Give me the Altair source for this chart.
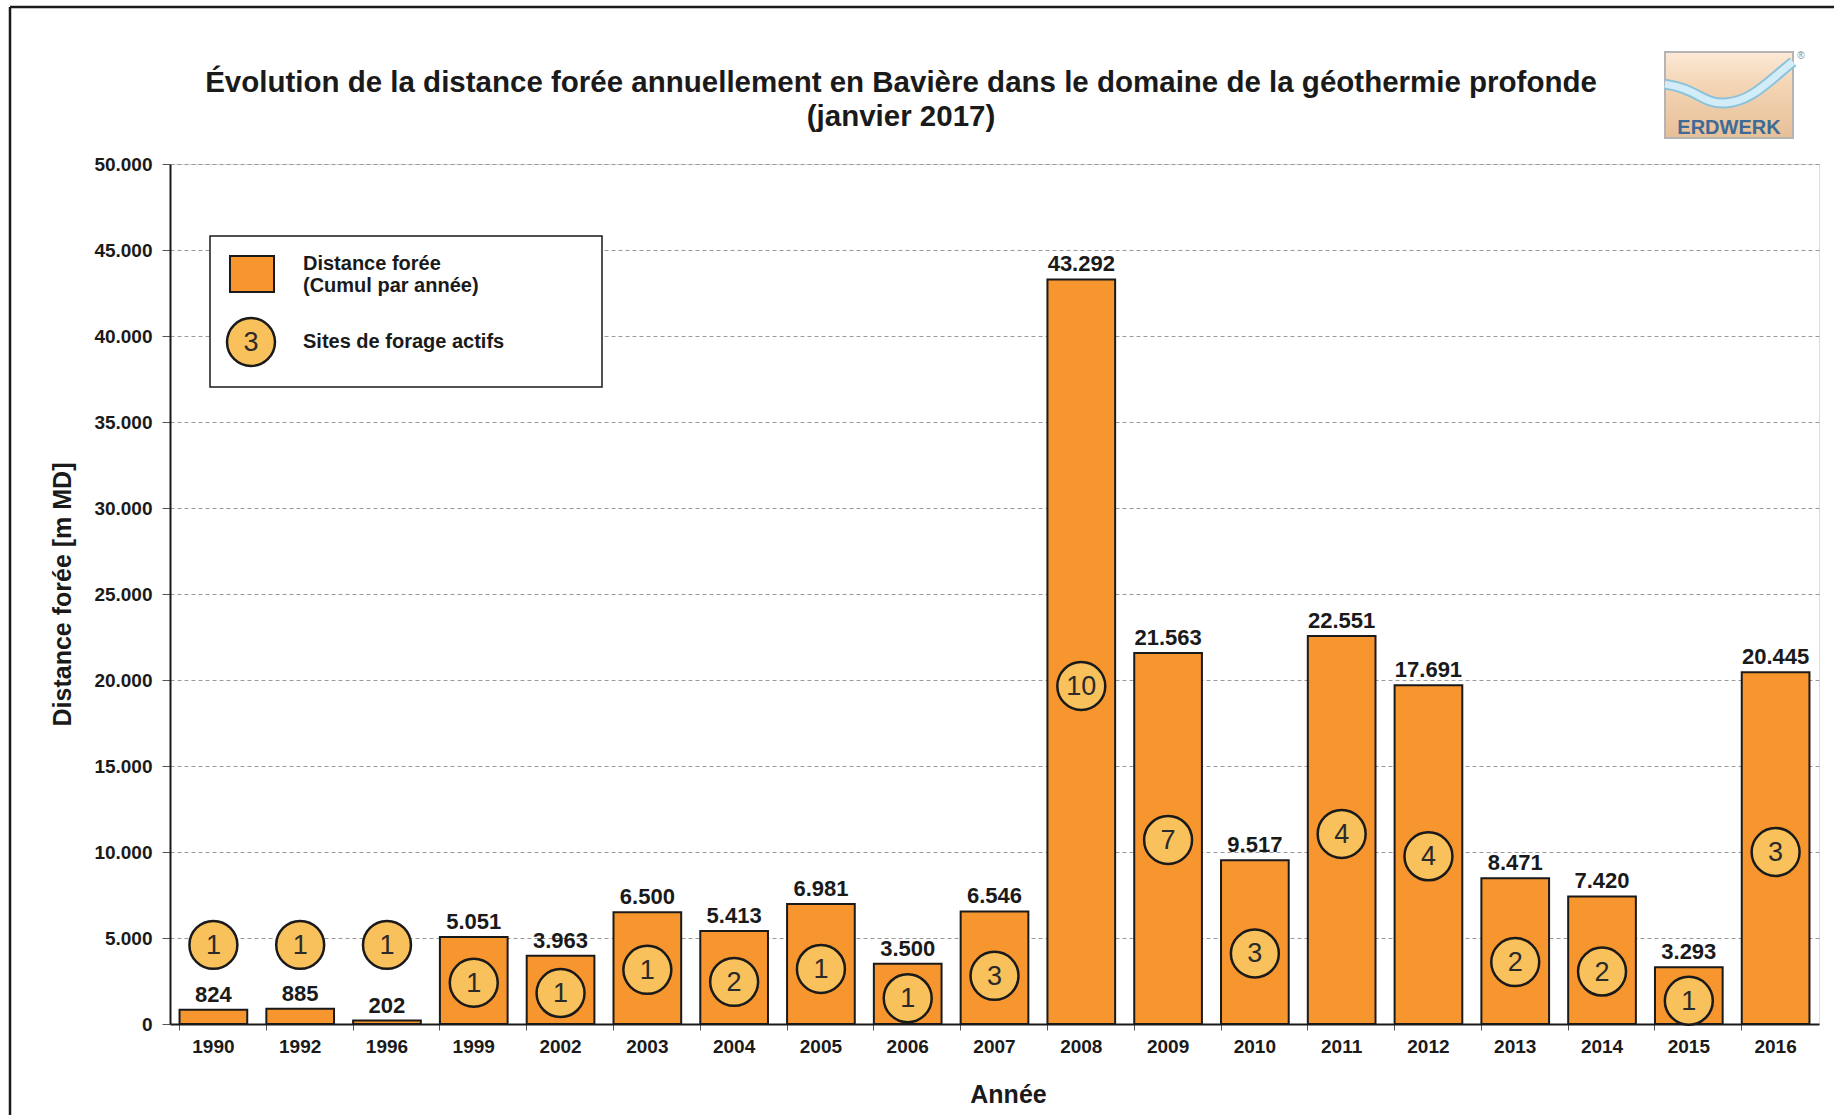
import altair as alt
import pandas as pd

# ---------------- data ----------------
years = ["1990", "1992", "1996", "1999", "2002", "2003", "2004", "2005", "2006", "2007",
         "2008", "2009", "2010", "2011", "2012", "2013", "2014", "2015", "2016"]
# bar heights as drawn (m MD)
distance = [824, 885, 202, 5051, 3963, 6500, 5413, 6981, 3500, 6546,
            43292, 21563, 9517, 22551, 19691, 8471, 7420, 3293, 20445]
# value labels as printed above the bars
value_labels = ["824", "885", "202", "5.051", "3.963", "6.500", "5.413", "6.981", "3.500", "6.546",
                "43.292", "21.563", "9.517", "22.551", "17.691", "8.471", "7.420", "3.293", "20.445"]
# number of active drilling sites
sites = ["1", "1", "1", "1", "1", "1", "2", "1", "1", "3",
         "10", "7", "3", "4", "4", "2", "2", "1", "3"]
# vertical placement of the site badges (in axis units)
site_pos = [4600, 4600, 4600, 2400, 1800, 3150, 2450, 3200, 1500, 2800,
            19650, 10700, 4100, 11050, 9750, 3600, 3050, 1350, 10000]

title_line1 = "Évolution de la distance forée annuellement en Bavière dans le domaine de la géothermie profonde"
title_line2 = "(janvier 2017)"
y_ticks = list(range(0, 50001, 5000))

df = pd.DataFrame({"year": years, "distance": distance, "label": value_labels,
                   "sites": sites, "site_pos": site_pos})

FONT = "Liberation Sans"
BAR = "#F7962F"
BADGE = "#F9C15B"
INK = "#1a1a1a"
W, H = 1649, 860

x_enc = alt.X("year:N", sort=years,
              scale=alt.Scale(paddingInner=0.22, paddingOuter=0.11),
              axis=alt.Axis(labelAngle=0, labelFont=FONT, labelFontWeight="bold", labelFontSize=19,
                            labelColor=INK, labelPadding=7, ticks=True, tickSize=6, tickColor="#555",
                            bandPosition=0, domainColor=INK, domainWidth=2, grid=False,
                            title="Année", titleFont=FONT, titleFontWeight="bold", titleFontSize=25,
                            titleColor=INK, titleX=838, titleY=70, titleBaseline="middle",
                            titleAlign="center"))
y_enc = alt.Y("distance:Q", scale=alt.Scale(domain=[0, 50000], nice=False),
              axis=alt.Axis(values=y_ticks,
                            labelExpr="replace(format(datum.value, ',d'), ',', '.')",
                            labelFont=FONT, labelFontWeight="bold", labelFontSize=19, labelColor=INK,
                            labelPadding=10, tickSize=8, tickColor="#555",
                            domainColor=INK, domainWidth=2,
                            grid=True, gridColor="#9a9a9a", gridDash=[4, 3], gridWidth=1,
                            title="Distance forée [m MD]", titleFont=FONT, titleFontWeight="bold",
                            titleFontSize=25, titleColor=INK, titleAngle=-90, titleX=-108, titleY=H / 2,
                            titleAlign="center", titleBaseline="middle"))

base = alt.Chart(df)

bars = base.mark_bar(color=BAR, stroke=INK, strokeWidth=2).encode(x=x_enc, y=y_enc)

vals = base.mark_text(font=FONT, fontWeight="bold", fontSize=22, color=INK,
                      baseline="alphabetic", dy=-8).encode(
    x=alt.X("year:N", sort=years), y=alt.Y("distance:Q"), text="label:N")

badges = base.mark_point(shape="circle", filled=True, fill=BADGE, stroke=INK, strokeWidth=2.5,
                         size=2300, opacity=1, fillOpacity=1, strokeOpacity=1).encode(
    x=alt.X("year:N", sort=years), y=alt.Y("site_pos:Q"))

badge_txt = base.mark_text(font=FONT, fontSize=27, color="#2a2a2a", baseline="middle", dy=1).encode(
    x=alt.X("year:N", sort=years), y=alt.Y("site_pos:Q"), text="sites:N")

one = alt.Data(values=[{"k": 1}])


def label(txt, px, py, size, weight="bold", align="center", color=INK):
    return alt.Chart(one).mark_text(font=FONT, fontWeight=weight, fontSize=size, color=color,
                                    align=align, baseline="middle").encode(
        x=alt.value(px), y=alt.value(py), text=alt.value(txt))


# ---------------- title (text marks placed above the plot) ----------------
title1 = label(title_line1, 731, -81, 29.5)
title2 = label(title_line2, 731, -47, 29.5)

# ---------------- outer frame (top and left edges of the page frame) ----------------
frame_top = alt.Chart(one).mark_rule(color=INK, strokeWidth=2.5).encode(
    x=alt.value(-160), x2=alt.value(1680), y=alt.value(-157))
frame_left = alt.Chart(one).mark_rule(color=INK, strokeWidth=2.5).encode(
    x=alt.value(-160), y=alt.value(-157), y2=alt.value(960))

# ---------------- legend box (drawn inside the plot) ----------------
leg_box = alt.Chart(one).mark_rect(fill="white", stroke=INK, strokeWidth=1.5).encode(
    x=alt.value(40), x2=alt.value(432), y=alt.value(72), y2=alt.value(223))
leg_sq = alt.Chart(one).mark_rect(fill=BAR, stroke=INK, strokeWidth=2).encode(
    x=alt.value(60), x2=alt.value(104), y=alt.value(92), y2=alt.value(128))
leg_circ = alt.Chart(one).mark_point(shape="circle", filled=True, fill=BADGE, stroke=INK,
                                      strokeWidth=2.5, size=2300, opacity=1).encode(
    x=alt.value(81), y=alt.value(178))
leg_circ_t = alt.Chart(one).mark_text(font=FONT, fontSize=27, color="#2a2a2a", baseline="middle",
                                      dy=1).encode(x=alt.value(81), y=alt.value(178), text=alt.value("3"))
leg_t1 = label("Distance forée", 133, 100, 20, align="left")
leg_t2 = label("(Cumul par année)", 133, 122, 20, align="left")
leg_t3 = label("Sites de forage actifs", 133, 178, 20, align="left")

# ---------------- logo (decoration) ----------------
logo_box = alt.Chart(one).mark_rect(
    fill=alt.Gradient(gradient="linear", x1=0, x2=0, y1=0, y2=1,
                      stops=[alt.GradientStop(color="#fce9d6", offset=0),
                             alt.GradientStop(color="#f2d2b0", offset=0.45),
                             alt.GradientStop(color="#e6bf98", offset=1)]),
    stroke="#b5b5b5", strokeWidth=2).encode(
    x=alt.value(1495), x2=alt.value(1623), y=alt.value(-112), y2=alt.value(-26))
wave_path = "M -1 -0.17 C -0.5 -0.1 -0.4 0.15 -0.06 0.125 C 0.35 0.1 0.6 -0.2 1 -0.52"
logo_wave_edge = alt.Chart(one).mark_point(shape=wave_path, filled=False, stroke="#8dc2dc",
                                            strokeWidth=11, size=16384, opacity=1).encode(
    x=alt.value(1559), y=alt.value(-69))
logo_wave = alt.Chart(one).mark_point(shape=wave_path, filled=False, stroke="#d3edf8",
                                       strokeWidth=7, size=16384, opacity=1).encode(
    x=alt.value(1559), y=alt.value(-69))
logo_txt = label("ERDWERK", 1559, -36, 20, color="#3d6a96")
logo_r = label("®", 1631, -108, 10, weight="normal", color="#888")

chart = alt.layer(
    bars, vals, badges, badge_txt,
    leg_box, leg_sq, leg_circ, leg_circ_t, leg_t1, leg_t2, leg_t3,
    title1, title2, frame_top, frame_left,
    logo_box, logo_wave_edge, logo_wave, logo_txt, logo_r
).properties(
    width=W, height=H,
    padding={"left": 170, "top": 164, "right": 15, "bottom": 91},
    autosize=alt.AutoSizeParams(type="none"),
).configure_view(stroke=INK, strokeWidth=2).configure(background="white")

chart.save("out.html", embed_options={"renderer": "svg", "actions": False})
